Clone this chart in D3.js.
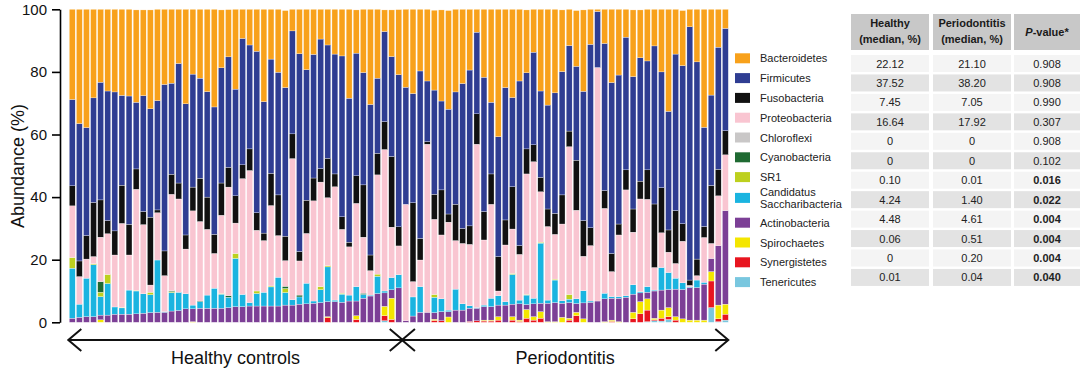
<!DOCTYPE html>
<html>
<head>
<meta charset="utf-8">
<script src="https://cdn.jsdelivr.net/npm/d3@7"></script>
<style>
  html, body { margin: 0; padding: 0; background: #fff; }
  svg { display: block; font-family: "Liberation Sans", Arial, Helvetica, sans-serif; }
</style>
</head>
<body>
<svg id="chart" width="1084" height="369"></svg>
<script>
// ---- data (one value per sample, % abundance) ----
const healthyCount = 47;
const periodontitisCount = 46;

const bacteroidetes = [
  28.8, 36.5, 37.8, 28.3, 23.3, 26.1, 26.4, 27.5, 27.7, 29.5,
  27.4, 31.6, 29.2, 24.0, 23.6, 17.3, 30.2, 20.7, 22.0, 26.3,
  31.2, 18.5, 15.1, 25.5, 9.3, 11.4, 13.4, 29.5, 15.9, 20.1,
  24.6, 6.9, 14.2, 19.3, 14.4, 9.5, 11.4, 14.3, 14.9, 28.4,
  13.8, 20.2, 30.4, 22.0, 6.9, 14.9, 20.8, 24.9, 26.9, 19.7,
  22.9, 25.5, 29.1, 31.5, 26.4, 23.7, 19.4, 7.3, 21.7, 29.7,
  40.7, 25.0, 28.2, 22.9, 20.1, 13.7, 26.1, 30.6, 26.7, 19.7,
  11.6, 17.8, 26.0, 11.2, 0.7, 10.9, 23.4, 21.0, 8.9, 21.3,
  15.3, 16.5, 11.7, 20.0, 32.6, 14.3, 17.6, 5.6, 16.8, 37.7,
  27.4, 12.1, 6.1
];
const firmicutes = [
  27.6, 43.9, 34.5, 33.4, 37.6, 41.4, 44.4, 28.7, 41.0, 21.3,
  37.0, 34.6, 34.9, 53.2, 29.1, 38.2, 41.9, 36.1, 32.0, 33.7,
  40.7, 36.8, 35.3, 34.1, 40.4, 33.2, 51.6, 42.0, 36.5, 39.2,
  47.5, 32.9, 63.2, 41.7, 39.5, 41.4, 36.2, 38.3, 51.4, 46.0,
  39.2, 35.9, 48.1, 24.0, 28.8, 31.9, 48.6, 37.4, 34.9, 53.5,
  19.4, 33.3, 28.4, 33.5, 35.9, 46.3, 49.8, 26.1, 42.9, 22.9,
  38.3, 42.3, 28.5, 52.6, 24.3, 29.6, 27.6, 33.2, 38.5, 39.4,
  27.3, 30.0, 41.3, 58.6, 17.9, 47.0, 54.6, 47.6, 42.4, 42.3,
  39.4, 34.8, 50.5, 37.0, 37.9, 50.0, 50.5, 80.9, 63.0, 31.7,
  28.9, 39.0, 32.7
];
const fusobacteria = [
  6.4, 5.0, 7.5, 17.3, 11.9, 4.2, 7.7, 12.2, 9.8, 6.5,
  4.2, 21.7, 0.9, 7.9, 6.4, 5.1, 4.5, 7.6, 13.8, 10.3,
  6.1, 10.3, 6.3, 8.7, 4.4, 6.9, 5.6, 2.4, 10.3, 13.0,
  7.8, 7.9, 3.0, 10.6, 7.3, 4.3, 12.6, 4.1, 4.0, 1.5,
  8.8, 16.7, 5.0, 6.9, 8.9, 22.6, 6.1, 0, 25.2, 6.9,
  0.8, 8.0, 14.4, 2.6, 11.6, 4.8, 5.9, 9.7, 9.1, 9.7,
  11.0, 8.0, 13.5, 2.8, 8.0, 5.4, 4.6, 5.6, 6.7, 9.3,
  5.0, 16.0, 11.4, 5.7, 0, 5.7, 5.8, 3.5, 6.4, 7.4,
  5.7, 9.4, 20.3, 14.4, 7.1, 16.9, 5.6, 1.7, 5.3, 3.5,
  18.5, 8.5, 7.7
];
const proteobacteria = [
  16.5, 8.8, 6.1, 2.3, 14.2, 13.0, 16.6, 26.8, 11.2, 32.3,
  22.1, 2.3, 15.1, 11.5, 30.8, 29.8, 14.3, 30.1, 25.4, 21.0,
  11.1, 25.0, 34.7, 9.7, 37.0, 42.2, 19.4, 16.5, 25.7, 13.3,
  8.2, 45.1, 10.9, 15.9, 32.0, 33.4, 21.7, 36.2, 20.4, 15.4,
  26.6, 17.9, 7.8, 31.7, 45.2, 16.1, 9.2, 37.2, 4.9, 8.5,
  53.7, 24.0, 20.4, 28.1, 15.5, 19.3, 19.6, 52.2, 20.8, 30.0,
  1.5, 18.1, 14.2, 14.6, 38.5, 43.6, 16.1, 23.5, 14.3, 24.5,
  47.2, 28.3, 11.0, 17.7, 74.6, 27.1, 8.0, 19.7, 33.8, 16.8,
  29.6, 27.9, 7.2, 11.1, 6.5, 4.7, 13.3, 0.5, 1.4, 14.3,
  4.8, 15.9, 17.8
];
const chloroflexi = [
  0, 0, 0, 0, 0, 0, 0, 0, 0, 0,
  0, 0, 0, 0, 0, 0, 0, 0, 0, 0,
  0, 0, 0, 0, 0, 0, 0, 0, 0, 0,
  0, 0, 0, 0, 0, 0, 0, 0, 0, 0,
  0, 0, 0, 0, 0, 0, 0, 0, 0, 0,
  0, 0, 0, 0, 0, 0, 0, 0, 0, 0,
  0, 0, 0, 0, 0, 0, 0, 0, 0, 0,
  0, 0, 0, 0, 0, 0, 0, 0, 0, 0,
  0, 0, 0, 0, 0, 0, 0, 0, 0, 0,
  0, 0, 0
];
const cyanobacteria = [
  0, 0, 0, 0, 3.4, 0, 0, 0, 0, 0,
  0, 0, 0, 0, 0.3, 0, 0, 0, 0.2, 0,
  0, 0, 0.5, 0, 0, 0, 0, 0, 0, 0,
  0.7, 0, 0.6, 0, 0, 0, 0, 0, 0, 0,
  0, 0.4, 0, 0, 0, 0, 0, 0, 0, 0,
  0, 0, 0, 0, 0, 0, 0, 0, 0, 0,
  0, 0, 0, 0, 0, 0, 0, 0, 0, 0,
  0, 0, 0, 0, 0, 0, 0, 0, 0, 0,
  0, 0, 0, 0, 0, 0, 0, 0, 0, 0,
  0, 0, 0
];
const sr1 = [
  3.4, 0, 0, 0.3, 1.4, 2.9, 0, 0.2, 0, 0.2,
  0, 0.8, 0, 0, 0.3, 0, 0, 0, 0, 0,
  0, 0.2, 0, 1.6, 0, 0, 0.8, 0, 0.3, 0,
  1.3, 0, 0, 0, 0, 1.0, 0.4, 0, 0.3, 0,
  0, 0, 0, 0.7, 0, 0, 0, 0, 0, 0,
  0, 0.9, 0, 0, 0, 0, 0, 0, 0, 0,
  0, 0, 0.3, 0, 0.2, 0, 0.3, 0, 0.3, 0,
  1.5, 0, 0, 0, 0, 0, 0, 0, 0, 0,
  0, 0, 0, 0, 0, 0, 0, 0, 0, 0,
  0, 0, 0
];
const candidatusSaccharibacteria = [
  16.0, 4.2, 12.3, 16.6, 5.9, 10.1, 2.3, 2.0, 7.7, 7.3,
  6.2, 5.7, 16.7, 0.2, 5.9, 5.8, 4.8, 1.2, 2.1, 4.2,
  6.4, 4.5, 3.3, 15.4, 3.9, 1.1, 4.0, 4.4, 6.1, 9.2,
  4.0, 1.7, 2.3, 6.6, 0.7, 4.1, 11.1, 0.5, 2.6, 1.9,
  4.6, 1.2, 0.3, 5.5, 0.6, 3.9, 4.2, 0, 6.1, 8.2,
  0, 4.9, 4.1, 0.5, 6.7, 2.0, 0.8, 0.2, 0.5, 2.7,
  3.0, 1.1, 9.5, 1.2, 3.0, 1.8, 19.2, 1.0, 7.2, 0.8,
  1.1, 1.5, 3.9, 0.4, 0, 1.8, 0.5, 0.5, 0.5, 3.0,
  0.4, 1.8, 0.3, 7.2, 5.4, 3.5, 2.1, 0.2, 2.4, 0.6,
  0, 0, 0
];
const actinobacteria = [
  1.3, 1.6, 1.8, 1.8, 1.5, 2.3, 2.6, 2.6, 2.6, 2.7,
  2.9, 3.1, 3.2, 3.2, 3.6, 3.8, 4.3, 4.1, 4.5, 4.5,
  4.5, 4.5, 4.7, 5.0, 5.0, 5.2, 5.2, 5.2, 5.2, 5.2,
  5.5, 5.5, 5.8, 5.9, 6.1, 6.3, 4.8, 6.6, 6.4, 6.8,
  4.7, 7.7, 8.4, 9.2, 4.3, 2.7, 11.0, 0.5, 2.0, 3.2,
  3.2, 2.1, 2.9, 1.7, 3.9, 3.9, 4.2, 4.0, 4.3, 4.3,
  3.7, 5.5, 4.0, 5.2, 1.6, 4.1, 2.7, 5.9, 6.1, 4.5,
  5.0, 2.8, 5.1, 6.4, 6.8, 7.3, 7.0, 7.5, 8.0, 5.8,
  2.8, 2.1, 8.7, 6.4, 5.8, 8.8, 9.4, 10.4, 10.4, 11.5,
  4.2, 19.0, 29.9
];
const spirochaetes = [
  0, 0, 0, 0, 0.8, 0, 0, 0, 0, 0,
  0, 0, 0, 0, 0, 0, 0, 0.2, 0, 0,
  0, 0, 0, 0, 0, 0, 0, 0, 0, 0,
  0, 0, 0, 0, 0, 0, 0.3, 0, 0, 0,
  1.2, 0, 0, 0, 3.0, 6.8, 0, 0, 0, 0,
  0, 0.4, 0, 1.7, 0, 0, 0, 0, 0.3, 0.3,
  1.1, 0, 1.1, 0.4, 2.8, 1.1, 2.1, 0.2, 0.2, 1.6,
  0.6, 1.1, 1.1, 0, 0, 0.2, 0.4, 0.2, 0, 2.1,
  3.9, 3.6, 0.5, 2.6, 2.9, 1.1, 1.1, 0.7, 0.7, 0.7,
  3.0, 4.4, 3.2
];
const synergistetes = [
  0, 0, 0, 0, 0, 0, 0, 0, 0, 0,
  0, 0, 0, 0, 0, 0, 0, 0, 0, 0,
  0, 0, 0, 0, 0, 0, 0, 0, 0, 0,
  0, 0, 0, 0, 0, 0, 1.5, 0, 0, 0,
  0.9, 0, 0, 0, 1.6, 0.9, 0, 0, 0, 0,
  0, 0.6, 0.5, 0, 0, 0, 0.3, 0.5, 0.4, 0.4,
  0.7, 0, 0.7, 0.3, 1.3, 0.7, 1.3, 0, 0, 0,
  0.7, 2.1, 0, 0, 0, 0, 0.3, 0, 0, 1.1,
  2.7, 3.7, 0.3, 0.9, 0.9, 0.7, 0, 0, 0, 0,
  8.5, 0.9, 1.9
];
const tenericutes = [
  0, 0, 0, 0, 0, 0, 0, 0, 0, 0,
  0, 0, 0, 0, 0, 0, 0, 0, 0, 0,
  0, 0, 0, 0, 0, 0, 0, 0, 0, 0,
  0, 0, 0, 0, 0, 0, 0, 0, 0, 0,
  0, 0, 0, 0, 0.5, 0, 0, 0, 0, 0,
  0, 0, 0, 0, 0, 0, 0, 0, 0, 0,
  0, 0, 0, 0, 0, 0, 0, 0, 0, 0,
  0, 0, 0, 0, 0, 0, 0, 0, 0, 0,
  0, 0.2, 0.5, 0.4, 0.9, 0, 0, 0, 0, 0,
  4.7, 0.2, 0.7
];

// legend / table, top to bottom
const phyla = ['Bacteroidetes', 'Firmicutes', 'Fusobacteria', 'Proteobacteria', 'Chloroflexi',
  'Cyanobacteria', 'SR1', 'Candidatus Saccharibacteria', 'Actinobacteria', 'Spirochaetes',
  'Synergistetes', 'Tenericutes'];
const phylumColors = ['#f8a11b', '#2f3d92', '#111111', '#f9c5d1', '#c9c7c7', '#1f6a32',
  '#bdd01e', '#1ab4e0', '#7c3f96', '#f4e600', '#e8151f', '#79c7df'];
const healthyMedian = ['22.12', '37.52', '7.45', '16.64', '0', '0', '0.10', '4.24', '4.48', '0.06', '0', '0.01'];
const periodontitisMedian = ['21.10', '38.20', '7.05', '17.92', '0', '0', '0.01', '1.40', '4.61', '0.51', '0.20', '0.04'];
const pValues = ['0.908', '0.908', '0.990', '0.307', '0.908', '0.102', '0.016', '0.022', '0.004', '0.004', '0.004', '0.040'];
const groupLabels = ['Healthy controls', 'Periodontitis'];
const yTicks = [0, 20, 40, 60, 80, 100];

// ---- build ----
const seriesValues = [bacteroidetes, firmicutes, fusobacteria, proteobacteria, chloroflexi,
  cyanobacteria, sr1, candidatusSaccharibacteria, actinobacteria, spirochaetes, synergistetes, tenericutes];
const nSamples = bacteroidetes.length;
const rows = d3.range(nSamples).map(i => {
  const r = { id: i };
  phyla.forEach((p, k) => { r[p] = seriesValues[k][i]; });
  return r;
});
const color = d3.scaleOrdinal().domain(phyla).range(phylumColors);

const svg = d3.select('#chart');

const x = d3.scaleBand()
  .domain(d3.range(nSamples))
  .range([69.3, 728.3])
  .paddingInner(0.17)
  .paddingOuter(0);
const y = d3.scaleLinear().domain([0, 100]).range([322.3, 9.3]);

// stack bottom -> top is the reverse of the legend order
const stack = d3.stack().keys(phyla.slice().reverse());
const layers = stack(rows);

svg.append('g')
  .selectAll('g')
  .data(layers)
  .enter().append('g')
  .attr('fill', d => color(d.key))
  .selectAll('rect')
  .data(d => d.filter(s => s[1] - s[0] > 0))
  .enter().append('rect')
  .attr('x', d => x(d.data.id))
  .attr('y', d => y(d[1]))
  .attr('width', x.bandwidth())
  .attr('height', d => y(d[0]) - y(d[1]))
  .attr('stroke', '#fff')
  .attr('stroke-width', 0.3);

// y axis
const yAxis = svg.append('g')
  .attr('transform', 'translate(60,0)')
  .call(d3.axisLeft(y).tickValues(yTicks).tickSize(8).tickSizeOuter(0).tickPadding(5));
yAxis.select('.domain').attr('stroke', '#000').attr('stroke-width', 1.6);
yAxis.selectAll('.tick line').attr('stroke', '#000').attr('stroke-width', 1.6);
yAxis.selectAll('.tick text')
  .style('font-size', '15px')
  .style('font-family', '"Liberation Sans", Arial, sans-serif')
  .attr('fill', '#111');

svg.append('text')
  .attr('transform', 'translate(19,166) rotate(-90)')
  .attr('text-anchor', 'middle')
  .attr('dominant-baseline', 'middle')
  .style('font-size', '18px')
  .attr('fill', '#111')
  .text('Abundance (%)');

// group arrows + labels
const groups = [
  { label: groupLabels[0], x0: x(0) - 1, x1: x(healthyCount - 1) + x.bandwidth() + 1 },
  { label: groupLabels[1], x0: x(healthyCount) - 1, x1: x(healthyCount + periodontitisCount - 1) + x.bandwidth() }
];
const arrowY = 340;
const g2 = svg.append('g');
groups.forEach(gr => {
  const p = d3.path();
  p.moveTo(gr.x0, arrowY); p.lineTo(gr.x1, arrowY);
  p.moveTo(gr.x0 + 13, arrowY - 11); p.lineTo(gr.x0, arrowY); p.lineTo(gr.x0 + 13, arrowY + 11);
  p.moveTo(gr.x1 - 13, arrowY - 11); p.lineTo(gr.x1, arrowY); p.lineTo(gr.x1 - 13, arrowY + 11);
  g2.append('path').attr('d', p.toString()).attr('fill', 'none')
    .attr('stroke', '#111').attr('stroke-width', 2);
  g2.append('text')
    .attr('x', (gr.x0 + gr.x1) / 2)
    .attr('y', 364)
    .attr('text-anchor', 'middle')
    .style('font-size', '18px')
    .attr('fill', '#111')
    .text(gr.label);
});

// legend
const legend = svg.append('g');
phyla.forEach((p, i) => {
  const cy = 58.3 + i * 19.8 + (i > 7 ? 6 : 0) + (i === 7 ? 1 : 0);
  legend.append('rect')
    .attr('x', 735).attr('y', cy - 5)
    .attr('width', 15).attr('height', 10)
    .attr('fill', color(p));
  const t = legend.append('text')
    .attr('x', 760)
    .style('font-size', '11px')
    .attr('fill', '#222');
  if (p === 'Candidatus Saccharibacteria') {
    t.append('tspan').attr('x', 760).attr('y', cy - 1.5).text('Candidatus');
    t.append('tspan').attr('x', 760).attr('y', cy + 10.5).text('Saccharibacteria');
  } else {
    t.attr('y', cy + 4).text(p);
  }
});

// table
const cols = [
  { x0: 851, x1: 929 },
  { x0: 933, x1: 1011 },
  { x0: 1014, x1: 1080 }
];
const table = svg.append('g').style('font-size', '11px');
const headTop = 14, headBottom = 50;
cols.forEach(c => {
  table.append('rect')
    .attr('x', c.x0).attr('y', headTop)
    .attr('width', c.x1 - c.x0).attr('height', headBottom - headTop)
    .attr('fill', '#c8c8c8');
});
const headerLines = [['Healthy', '(median, %)'], ['Periodontitis', '(median, %)']];
headerLines.forEach((lines, ci) => {
  const cx = (cols[ci].x0 + cols[ci].x1) / 2;
  lines.forEach((ln, li) => {
    table.append('text')
      .attr('x', cx).attr('y', 27 + li * 16)
      .attr('text-anchor', 'middle')
      .style('font-weight', 'bold')
      .attr('fill', '#1a1a1a')
      .text(ln);
  });
});
const pHead = table.append('text')
  .attr('x', (cols[2].x0 + cols[2].x1) / 2).attr('y', 36)
  .attr('text-anchor', 'middle')
  .style('font-weight', 'bold')
  .attr('fill', '#1a1a1a');
pHead.append('tspan').style('font-style', 'italic').text('P');
pHead.append('tspan').text('-value*');

const rowTop = 55, rowPitch = 19.45, rowH = 17;
phyla.forEach((p, i) => {
  const ry = rowTop + i * rowPitch;
  const fill = i % 2 === 0 ? '#f4f4f4' : '#e3e3e3';
  const vals = [healthyMedian[i], periodontitisMedian[i], pValues[i]];
  cols.forEach((c, ci) => {
    table.append('rect')
      .attr('x', c.x0).attr('y', ry)
      .attr('width', c.x1 - c.x0).attr('height', rowH)
      .attr('fill', fill);
    table.append('text')
      .attr('x', (c.x0 + c.x1) / 2).attr('y', ry + rowH / 2 + 4)
      .attr('text-anchor', 'middle')
      .style('font-weight', ci === 2 && +vals[ci] < 0.05 ? 'bold' : 'normal')
      .attr('fill', '#222')
      .text(vals[ci]);
  });
});
</script>
</body>
</html>
